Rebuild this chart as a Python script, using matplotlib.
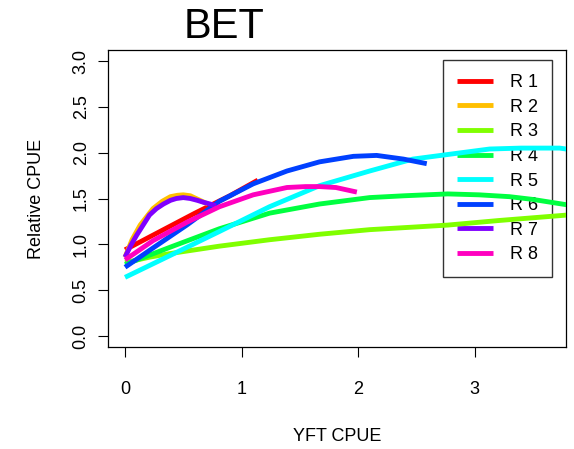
import matplotlib
matplotlib.use('Agg')
import matplotlib.pyplot as plt

# R rainbow(8) palette
colors = ['#FF0000', '#FFBF00', '#80FF00', '#00FF40',
          '#00FFFF', '#0040FF', '#8000FF', '#FF00BF']
labels = ['R 1', 'R 2', 'R 3', 'R 4', 'R 5', 'R 6', 'R 7', 'R 8']

# curves (x = YFT CPUE, y = relative CPUE)
r1_x = [0.0, 0.3, 0.6, 0.9, 1.14]
r1_y = [0.94, 1.14, 1.34, 1.53, 1.70]
r2_x = [0.0, 0.06, 0.13, 0.24, 0.32, 0.39, 0.45, 0.50, 0.56, 0.61, 0.66, 0.71]
r2_y = [0.86, 1.05, 1.21, 1.39, 1.47, 1.52, 1.535, 1.54, 1.53, 1.50, 1.47, 1.44]
r3_x = [0.0, 0.21, 0.39, 0.81, 1.24, 1.67, 2.10, 2.77, 3.21, 3.80, 3.9]
r3_y = [0.80, 0.86, 0.90, 0.98, 1.05, 1.11, 1.16, 1.21, 1.26, 1.32, 1.33]
r4_x = [0.0, 0.39, 0.81, 1.24, 1.67, 2.10, 2.40, 2.77, 3.04, 3.30, 3.50, 3.80, 3.9]
r4_y = [0.78, 0.97, 1.17, 1.34, 1.44, 1.51, 1.53, 1.55, 1.54, 1.52, 1.49, 1.43, 1.41]
r5_x = [0.0, 0.39, 0.81, 1.24, 1.67, 2.10, 2.47, 2.77, 3.13, 3.40, 3.73, 3.9]
r5_y = [0.64, 0.88, 1.14, 1.41, 1.64, 1.80, 1.93, 1.98, 2.04, 2.05, 2.05, 2.02]
r6_x = [0.0, 0.24, 0.53, 0.81, 1.10, 1.39, 1.67, 1.96, 2.16, 2.39, 2.59]
r6_y = [0.75, 0.96, 1.21, 1.47, 1.66, 1.80, 1.90, 1.96, 1.97, 1.93, 1.88]
r7_x = [0.0, 0.05, 0.10, 0.16, 0.21, 0.27, 0.33, 0.39, 0.44, 0.50, 0.56, 0.62, 0.67, 0.73, 0.78]
r7_y = [0.86, 0.99, 1.10, 1.22, 1.32, 1.39, 1.44, 1.48, 1.50, 1.51, 1.50, 1.48, 1.46, 1.44, 1.42]
r8_x = [0.0, 0.24, 0.53, 0.81, 1.10, 1.39, 1.55, 1.67, 1.81, 1.99]
r8_y = [0.83, 1.04, 1.24, 1.41, 1.54, 1.62, 1.63, 1.63, 1.62, 1.57]

xs = [r1_x, r2_x, r3_x, r4_x, r5_x, r6_x, r7_x, r8_x]
ys = [r1_y, r2_y, r3_y, r4_y, r5_y, r6_y, r7_y, r8_y]

plt.rcParams['font.family'] = ['Liberation Sans', 'DejaVu Sans']

fig = plt.figure(figsize=(5.74, 4.49), dpi=100)
ax = fig.add_axes([0.1882, 0.2272, 0.7978, 0.6614])

for x, y, c, lab in zip(xs, ys, colors, labels):
    ax.plot(x, y, color=c, lw=3.5, label=lab, solid_capstyle='butt',
            solid_joinstyle='round', zorder=3)

ax.set_xlim(-0.146, 3.785)
ax.set_ylim(-0.12, 3.12)
ax.set_xticks([0, 1, 2, 3])
ax.set_xticklabels(['0', '1', '2', '3'])
ax.set_yticks([0.0, 0.5, 1.0, 1.5, 2.0, 2.5, 3.0])
ax.set_yticklabels(['0.0', '0.5', '1.0', '1.5', '2.0', '2.5', '3.0'], rotation=90, va='center')
ax.tick_params(direction='out', length=7.2, width=0.8, labelsize=13, color='black')
ax.tick_params(axis='x', pad=17)
ax.tick_params(axis='y', pad=6)
for s in ax.spines.values():
    s.set_linewidth(0.9)

ax.set_xlabel('YFT CPUE', fontsize=13, labelpad=22)
ax.set_ylabel('Relative CPUE', fontsize=13, labelpad=20)

fig.text(224 / 574, 1 - 37.5 / 449, 'BET', fontsize=30, ha='center', va='baseline')

leg = ax.legend(loc='upper left', bbox_to_anchor=(0.731, 0.966), fontsize=13,
                frameon=True, fancybox=False, edgecolor='black', facecolor='none',
                handlelength=2.0, handletextpad=0.95, labelspacing=0.42,
                borderpad=0.78, borderaxespad=0)
leg.get_frame().set_linewidth(1.0)
leg.set_zorder(1)

fig.savefig('out.png', dpi=100)
